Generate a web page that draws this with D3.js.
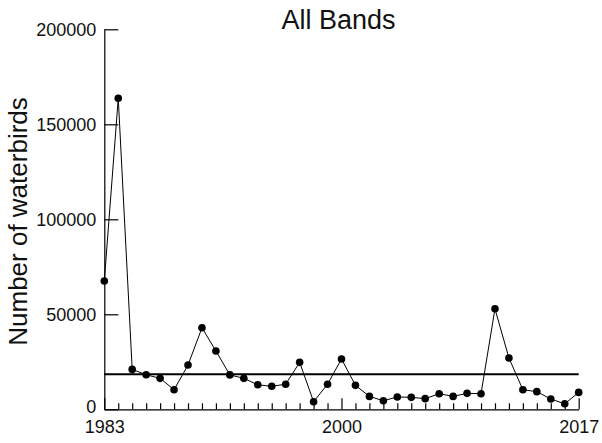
<!DOCTYPE html>
<html>
<head>
<meta charset="utf-8">
<script src="https://cdn.jsdelivr.net/npm/d3@7"></script>
<style>
  html, body { margin: 0; padding: 0; background: #fff; }
  svg { display: block; font-family: "Liberation Sans", Arial, sans-serif; }
</style>
</head>
<body>
<svg id="chart" width="602" height="443"></svg>
<script>
// ---- data ----
const years = d3.range(1983, 2018);
const counts = [
  67500, 163700, 21000, 18200, 16300, 10300, 23300, 42900, 30700, 18100,
  16300, 12900, 12100, 13200, 24700, 4000, 13200, 26500, 12600, 6800,
  4500, 6500, 6300, 5600, 8200, 6800, 8400, 8200, 52900, 27000,
  10300, 9300, 5400, 2900, 8900
];
const referenceLevel = 18400;
const yTicks = [0, 50000, 100000, 150000, 200000];
const xLabelYears = [1983, 2000, 2017];
const title = "All Bands";
const yLabel = "Number of waterbirds";

// ---- layout ----
const svg = d3.select("#chart");
const x = d3.scaleLinear().domain([1983, 2017]).range([104.3, 578.7]);
const y = d3.scaleLinear().domain([0, 200000]).range([409.3, 29.3]);

// y axis (ticks pointing inward)
const yAxis = d3.axisLeft(y)
  .tickValues(yTicks)
  .tickFormat(d3.format("d"))
  .tickSizeInner(-14)
  .tickSizeOuter(0)
  .tickPadding(8);
const gy = svg.append("g").attr("transform", `translate(${x.range()[0]},0)`).call(yAxis);
gy.selectAll("text").attr("font-size", 18).attr("fill", "#111").attr("font-family", "Liberation Sans, Arial, sans-serif");
gy.selectAll(".tick text").filter(d => d === 0).attr("y", -2.5);
gy.selectAll("line, path").attr("stroke", "#000").attr("stroke-width", 1.2);

// x axis (ticks pointing inward, longer at labelled years)
const xAxis = d3.axisBottom(x)
  .tickValues(years)
  .tickFormat(d => xLabelYears.includes(d) ? String(d) : "")
  .tickSizeInner(-6)
  .tickSizeOuter(0)
  .tickPadding(10);
const gx = svg.append("g").attr("transform", `translate(0,${y.range()[0]})`).call(xAxis);
gx.selectAll(".tick line")
  .attr("y2", d => xLabelYears.includes(d) ? -11 : -6);
gx.selectAll(".tick text").attr("y", 10.5);
gx.selectAll("text").attr("font-size", 18).attr("fill", "#111").attr("font-family", "Liberation Sans, Arial, sans-serif");
gx.selectAll("line, path").attr("stroke", "#000").attr("stroke-width", 1.2);

// reference horizontal line
svg.append("line")
  .attr("x1", x(1983)).attr("x2", x(2017))
  .attr("y1", y(referenceLevel)).attr("y2", y(referenceLevel))
  .attr("stroke", "#000").attr("stroke-width", 2);

// series line
const line = d3.line().x((d, i) => x(years[i])).y(d => y(d));
svg.append("path")
  .datum(counts)
  .attr("d", line)
  .attr("fill", "none")
  .attr("stroke", "#000")
  .attr("stroke-width", 1);

// points
svg.append("g").selectAll("circle")
  .data(counts)
  .join("circle")
  .attr("cx", (d, i) => x(years[i]))
  .attr("cy", d => y(d))
  .attr("r", 3.8)
  .attr("fill", "#000");

// title
svg.append("text")
  .attr("x", 338.5).attr("y", 29.3)
  .attr("text-anchor", "middle")
  .attr("font-size", 27)
  .attr("fill", "#111")
  .text(title);

// y label
svg.append("text")
  .attr("transform", "translate(27,221.5) rotate(-90)")
  .attr("text-anchor", "middle")
  .attr("font-size", 26)
  .attr("fill", "#111")
  .text(yLabel);
</script>
</body>
</html>
